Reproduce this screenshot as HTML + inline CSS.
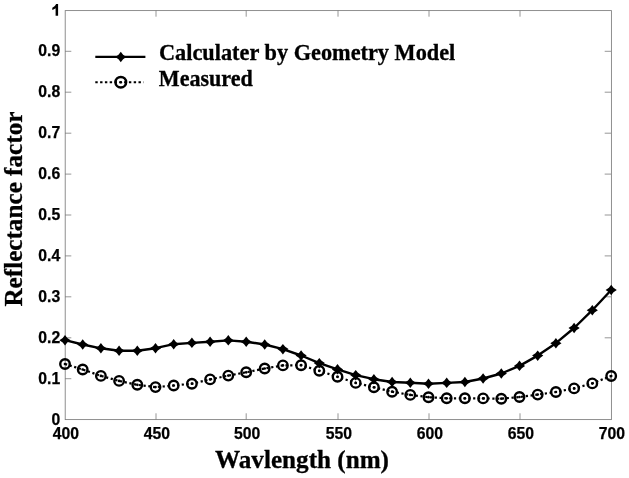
<!DOCTYPE html>
<html><head><meta charset="utf-8"><title>Reflectance factor chart</title>
<style>
html,body{margin:0;padding:0;background:#fff;}
body{width:629px;height:478px;overflow:hidden;}
svg{display:block;filter:blur(0.45px);}
.tk{font-family:"Liberation Sans",sans-serif;font-weight:bold;font-size:15.7px;fill:#000;stroke:#000;stroke-width:0.25px;}
.ser{font-family:"Liberation Serif",serif;font-weight:bold;fill:#000;stroke:#000;stroke-width:0.3px;}
</style></head><body>
<svg width="629" height="478" viewBox="0 0 629 478">
<rect x="0" y="0" width="629" height="478" fill="#ffffff"/>
<rect x="65.2" y="10.6" width="546.2" height="409.0" fill="none" stroke="#7c7c7c" stroke-width="0.85"/>
<g stroke="#7c7c7c" stroke-width="0.8" fill="none">
<line x1="156.0" y1="419.6" x2="156.0" y2="413.3"/>
<line x1="156.0" y1="10.4" x2="156.0" y2="16.7"/>
<line x1="246.2" y1="419.6" x2="246.2" y2="413.3"/>
<line x1="246.2" y1="10.4" x2="246.2" y2="16.7"/>
<line x1="338.0" y1="419.6" x2="338.0" y2="413.3"/>
<line x1="338.0" y1="10.4" x2="338.0" y2="16.7"/>
<line x1="429.0" y1="419.6" x2="429.0" y2="413.3"/>
<line x1="429.0" y1="10.4" x2="429.0" y2="16.7"/>
<line x1="520.0" y1="419.6" x2="520.0" y2="413.3"/>
<line x1="520.0" y1="10.4" x2="520.0" y2="16.7"/>
<line x1="65.0" y1="378.7" x2="71.3" y2="378.7"/>
<line x1="611.0" y1="378.7" x2="604.7" y2="378.7"/>
<line x1="65.0" y1="337.8" x2="71.3" y2="337.8"/>
<line x1="611.0" y1="337.8" x2="604.7" y2="337.8"/>
<line x1="65.0" y1="296.8" x2="71.3" y2="296.8"/>
<line x1="611.0" y1="296.8" x2="604.7" y2="296.8"/>
<line x1="65.0" y1="255.9" x2="71.3" y2="255.9"/>
<line x1="611.0" y1="255.9" x2="604.7" y2="255.9"/>
<line x1="65.0" y1="215.0" x2="71.3" y2="215.0"/>
<line x1="611.0" y1="215.0" x2="604.7" y2="215.0"/>
<line x1="65.0" y1="174.1" x2="71.3" y2="174.1"/>
<line x1="611.0" y1="174.1" x2="604.7" y2="174.1"/>
<line x1="65.0" y1="133.2" x2="71.3" y2="133.2"/>
<line x1="611.0" y1="133.2" x2="604.7" y2="133.2"/>
<line x1="65.0" y1="92.2" x2="71.3" y2="92.2"/>
<line x1="611.0" y1="92.2" x2="604.7" y2="92.2"/>
<line x1="65.0" y1="51.3" x2="71.3" y2="51.3"/>
<line x1="611.0" y1="51.3" x2="604.7" y2="51.3"/>
</g>
<g class="tk">
<text x="52.8" y="438.5" textLength="26.3" lengthAdjust="spacingAndGlyphs">400</text>
<text x="143.8" y="438.5" textLength="26.3" lengthAdjust="spacingAndGlyphs">450</text>
<text x="233.9" y="438.5" textLength="26.3" lengthAdjust="spacingAndGlyphs">500</text>
<text x="325.8" y="438.5" textLength="26.3" lengthAdjust="spacingAndGlyphs">550</text>
<text x="416.8" y="438.5" textLength="26.3" lengthAdjust="spacingAndGlyphs">600</text>
<text x="507.8" y="438.5" textLength="26.3" lengthAdjust="spacingAndGlyphs">650</text>
<text x="598.8" y="438.5" textLength="26.3" lengthAdjust="spacingAndGlyphs">700</text>
<text x="60.2" y="424.9" text-anchor="end">0</text>
<text x="38.3" y="383.6" textLength="21.9" lengthAdjust="spacingAndGlyphs">0.1</text>
<text x="38.3" y="342.7" textLength="21.9" lengthAdjust="spacingAndGlyphs">0.2</text>
<text x="38.3" y="301.7" textLength="21.9" lengthAdjust="spacingAndGlyphs">0.3</text>
<text x="38.3" y="260.8" textLength="21.9" lengthAdjust="spacingAndGlyphs">0.4</text>
<text x="38.3" y="219.9" textLength="21.9" lengthAdjust="spacingAndGlyphs">0.5</text>
<text x="38.3" y="179.0" textLength="21.9" lengthAdjust="spacingAndGlyphs">0.6</text>
<text x="38.3" y="138.1" textLength="21.9" lengthAdjust="spacingAndGlyphs">0.7</text>
<text x="38.3" y="97.1" textLength="21.9" lengthAdjust="spacingAndGlyphs">0.8</text>
<text x="38.3" y="56.2" textLength="21.9" lengthAdjust="spacingAndGlyphs">0.9</text>
<path stroke="none" d="M58.1 15.7H55.6V8.2C54.6 9.0 53.4 9.6 52.3 9.9V7.8C53.9 7.1 55.3 5.8 56.1 4.1H58.1Z"/>
</g>
<text class="ser" font-size="25" x="215.0" y="467.8" textLength="174" lengthAdjust="spacingAndGlyphs">Wavlength (nm)</text>
<text class="ser" font-size="25" transform="translate(22.3,306.6) rotate(-90)" x="0" y="0" textLength="195" lengthAdjust="spacingAndGlyphs">Reflectance factor</text>
<polyline points="65.0,340.2 82.7,344.5 100.9,348.3 119.1,350.7 137.3,350.7 155.5,348.2 173.7,344.2 191.9,342.9 210.1,341.7 228.3,340.4 246.2,341.7 264.7,344.5 282.9,349.1 301.1,355.5 319.3,363.1 337.5,369.4 355.7,375.1 373.9,379.2 392.1,382.0 410.3,382.8 428.5,383.8 446.7,382.9 464.9,382.0 483.1,378.5 501.3,373.5 519.5,365.9 537.7,355.6 555.9,343.2 574.1,328.0 592.3,310.2 611.2,290.0" fill="none" stroke="#000" stroke-width="2.4" stroke-linejoin="round"/>
<g fill="#000">
<path d="M65.0 334.9L67.3 337.9L70.6 340.2L67.3 342.5L65.0 345.4L62.7 342.5L59.4 340.2L62.7 337.9Z"/>
<path d="M82.7 339.2L85.0 342.2L88.3 344.5L85.0 346.8L82.7 349.8L80.4 346.8L77.1 344.5L80.4 342.2Z"/>
<path d="M100.9 343.1L103.2 346.0L106.5 348.3L103.2 350.6L100.9 353.6L98.6 350.6L95.3 348.3L98.6 346.0Z"/>
<path d="M119.1 345.4L121.4 348.4L124.7 350.7L121.4 353.0L119.1 355.9L116.8 353.0L113.5 350.7L116.8 348.4Z"/>
<path d="M137.3 345.4L139.6 348.4L142.9 350.7L139.6 353.0L137.3 355.9L135.0 353.0L131.7 350.7L135.0 348.4Z"/>
<path d="M155.5 342.9L157.8 345.9L161.1 348.2L157.8 350.5L155.5 353.4L153.2 350.5L149.9 348.2L153.2 345.9Z"/>
<path d="M173.7 338.9L176.0 341.9L179.3 344.2L176.0 346.5L173.7 349.4L171.4 346.5L168.1 344.2L171.4 341.9Z"/>
<path d="M191.9 337.6L194.2 340.6L197.5 342.9L194.2 345.2L191.9 348.1L189.6 345.2L186.3 342.9L189.6 340.6Z"/>
<path d="M210.1 336.4L212.4 339.4L215.7 341.7L212.4 344.0L210.1 346.9L207.8 344.0L204.5 341.7L207.8 339.4Z"/>
<path d="M228.3 335.1L230.6 338.1L233.9 340.4L230.6 342.7L228.3 345.6L226.0 342.7L222.7 340.4L226.0 338.1Z"/>
<path d="M246.2 336.4L248.5 339.4L251.8 341.7L248.5 344.0L246.2 346.9L243.9 344.0L240.6 341.7L243.9 339.4Z"/>
<path d="M264.7 339.2L267.0 342.2L270.3 344.5L267.0 346.8L264.7 349.8L262.4 346.8L259.1 344.5L262.4 342.2Z"/>
<path d="M282.9 343.9L285.2 346.8L288.5 349.1L285.2 351.4L282.9 354.4L280.6 351.4L277.3 349.1L280.6 346.8Z"/>
<path d="M301.1 350.2L303.4 353.2L306.7 355.5L303.4 357.8L301.1 360.8L298.8 357.8L295.5 355.5L298.8 353.2Z"/>
<path d="M319.3 357.9L321.6 360.8L324.9 363.1L321.6 365.4L319.3 368.4L317.0 365.4L313.7 363.1L317.0 360.8Z"/>
<path d="M337.5 364.1L339.8 367.1L343.1 369.4L339.8 371.7L337.5 374.6L335.2 371.7L331.9 369.4L335.2 367.1Z"/>
<path d="M355.7 369.9L358.0 372.8L361.3 375.1L358.0 377.4L355.7 380.4L353.4 377.4L350.1 375.1L353.4 372.8Z"/>
<path d="M373.9 373.9L376.2 376.9L379.5 379.2L376.2 381.5L373.9 384.4L371.6 381.5L368.3 379.2L371.6 376.9Z"/>
<path d="M392.1 376.8L394.4 379.7L397.7 382.0L394.4 384.3L392.1 387.2L389.8 384.3L386.5 382.0L389.8 379.7Z"/>
<path d="M410.3 377.6L412.6 380.5L415.9 382.8L412.6 385.1L410.3 388.1L408.0 385.1L404.7 382.8L408.0 380.5Z"/>
<path d="M428.5 378.6L430.8 381.5L434.1 383.8L430.8 386.1L428.5 389.1L426.2 386.1L422.9 383.8L426.2 381.5Z"/>
<path d="M446.7 377.6L449.0 380.6L452.3 382.9L449.0 385.2L446.7 388.1L444.4 385.2L441.1 382.9L444.4 380.6Z"/>
<path d="M464.9 376.8L467.2 379.7L470.5 382.0L467.2 384.3L464.9 387.2L462.6 384.3L459.3 382.0L462.6 379.7Z"/>
<path d="M483.1 373.2L485.4 376.2L488.7 378.5L485.4 380.8L483.1 383.8L480.8 380.8L477.5 378.5L480.8 376.2Z"/>
<path d="M501.3 368.2L503.6 371.2L506.9 373.5L503.6 375.8L501.3 378.8L499.0 375.8L495.7 373.5L499.0 371.2Z"/>
<path d="M519.5 360.6L521.8 363.6L525.1 365.9L521.8 368.2L519.5 371.1L517.2 368.2L513.9 365.9L517.2 363.6Z"/>
<path d="M537.7 350.4L540.0 353.3L543.3 355.6L540.0 357.9L537.7 360.9L535.4 357.9L532.1 355.6L535.4 353.3Z"/>
<path d="M555.9 337.9L558.2 340.9L561.5 343.2L558.2 345.5L555.9 348.4L553.6 345.5L550.3 343.2L553.6 340.9Z"/>
<path d="M574.1 322.8L576.4 325.7L579.7 328.0L576.4 330.3L574.1 333.2L571.8 330.3L568.5 328.0L571.8 325.7Z"/>
<path d="M592.3 304.9L594.6 307.9L597.9 310.2L594.6 312.5L592.3 315.4L590.0 312.5L586.7 310.2L590.0 307.9Z"/>
<path d="M611.2 284.8L613.5 287.7L616.8 290.0L613.5 292.3L611.2 295.2L608.9 292.3L605.6 290.0L608.9 287.7Z"/>
</g>
<polyline points="65.0,364.0 82.7,369.5 100.9,375.9 119.1,380.9 137.3,384.8 155.5,387.1 173.7,385.5 191.9,383.7 210.1,379.4 228.3,375.6 246.2,372.3 264.7,368.5 282.9,365.4 301.1,365.2 319.3,370.8 337.5,376.8 355.7,382.9 373.9,387.3 392.1,391.7 410.3,394.9 428.5,397.2 446.7,398.3 464.9,398.3 483.1,398.4 501.3,398.7 519.5,397.0 537.7,394.6 555.9,392.0 574.1,388.4 592.3,383.4 611.2,376.0" fill="none" stroke="#000" stroke-width="2.2" stroke-dasharray="2.2 2.6"/>
<g fill="none" stroke="#000" stroke-width="2.4">
<circle cx="65.0" cy="364.0" r="4.75"/>
<circle cx="82.7" cy="369.5" r="4.75"/>
<circle cx="100.9" cy="375.9" r="4.75"/>
<circle cx="119.1" cy="380.9" r="4.75"/>
<circle cx="137.3" cy="384.8" r="4.75"/>
<circle cx="155.5" cy="387.1" r="4.75"/>
<circle cx="173.7" cy="385.5" r="4.75"/>
<circle cx="191.9" cy="383.7" r="4.75"/>
<circle cx="210.1" cy="379.4" r="4.75"/>
<circle cx="228.3" cy="375.6" r="4.75"/>
<circle cx="246.2" cy="372.3" r="4.75"/>
<circle cx="264.7" cy="368.5" r="4.75"/>
<circle cx="282.9" cy="365.4" r="4.75"/>
<circle cx="301.1" cy="365.2" r="4.75"/>
<circle cx="319.3" cy="370.8" r="4.75"/>
<circle cx="337.5" cy="376.8" r="4.75"/>
<circle cx="355.7" cy="382.9" r="4.75"/>
<circle cx="373.9" cy="387.3" r="4.75"/>
<circle cx="392.1" cy="391.7" r="4.75"/>
<circle cx="410.3" cy="394.9" r="4.75"/>
<circle cx="428.5" cy="397.2" r="4.75"/>
<circle cx="446.7" cy="398.3" r="4.75"/>
<circle cx="464.9" cy="398.3" r="4.75"/>
<circle cx="483.1" cy="398.4" r="4.75"/>
<circle cx="501.3" cy="398.7" r="4.75"/>
<circle cx="519.5" cy="397.0" r="4.75"/>
<circle cx="537.7" cy="394.6" r="4.75"/>
<circle cx="555.9" cy="392.0" r="4.75"/>
<circle cx="574.1" cy="388.4" r="4.75"/>
<circle cx="592.3" cy="383.4" r="4.75"/>
<circle cx="611.2" cy="376.0" r="4.75"/>
</g>
<g fill="#000">
<circle cx="65.0" cy="364.0" r="1.35"/>
<circle cx="82.7" cy="369.5" r="1.35"/>
<circle cx="100.9" cy="375.9" r="1.35"/>
<circle cx="119.1" cy="380.9" r="1.35"/>
<circle cx="137.3" cy="384.8" r="1.35"/>
<circle cx="155.5" cy="387.1" r="1.35"/>
<circle cx="173.7" cy="385.5" r="1.35"/>
<circle cx="191.9" cy="383.7" r="1.35"/>
<circle cx="210.1" cy="379.4" r="1.35"/>
<circle cx="228.3" cy="375.6" r="1.35"/>
<circle cx="246.2" cy="372.3" r="1.35"/>
<circle cx="264.7" cy="368.5" r="1.35"/>
<circle cx="282.9" cy="365.4" r="1.35"/>
<circle cx="301.1" cy="365.2" r="1.35"/>
<circle cx="319.3" cy="370.8" r="1.35"/>
<circle cx="337.5" cy="376.8" r="1.35"/>
<circle cx="355.7" cy="382.9" r="1.35"/>
<circle cx="373.9" cy="387.3" r="1.35"/>
<circle cx="392.1" cy="391.7" r="1.35"/>
<circle cx="410.3" cy="394.9" r="1.35"/>
<circle cx="428.5" cy="397.2" r="1.35"/>
<circle cx="446.7" cy="398.3" r="1.35"/>
<circle cx="464.9" cy="398.3" r="1.35"/>
<circle cx="483.1" cy="398.4" r="1.35"/>
<circle cx="501.3" cy="398.7" r="1.35"/>
<circle cx="519.5" cy="397.0" r="1.35"/>
<circle cx="537.7" cy="394.6" r="1.35"/>
<circle cx="555.9" cy="392.0" r="1.35"/>
<circle cx="574.1" cy="388.4" r="1.35"/>
<circle cx="592.3" cy="383.4" r="1.35"/>
<circle cx="611.2" cy="376.0" r="1.35"/>
</g>
<g>
<line x1="95.3" y1="56.9" x2="145.4" y2="56.9" stroke="#000" stroke-width="2.2"/>
<g fill="#000"><path d="M120.8 51.8L123.1 54.7L126.4 57.0L123.1 59.3L120.8 62.2L118.5 59.3L115.2 57.0L118.5 54.7Z"/></g>
<line x1="95.3" y1="82.2" x2="143.6" y2="82.2" stroke="#000" stroke-width="2.1" stroke-dasharray="2.4 2.4"/>
<circle cx="120.8" cy="82.2" r="5.3" fill="none" stroke="#000" stroke-width="2.5"/>
<circle cx="120.8" cy="82.2" r="1.3" fill="#000"/>
<text class="ser" font-size="22.3" x="159.0" y="60.4" textLength="296.3" lengthAdjust="spacingAndGlyphs">Calculater by Geometry Model</text>
<text class="ser" font-size="22.3" x="158.8" y="86.2" textLength="94" lengthAdjust="spacingAndGlyphs">Measured</text>
</g>
</svg>
</body></html>
